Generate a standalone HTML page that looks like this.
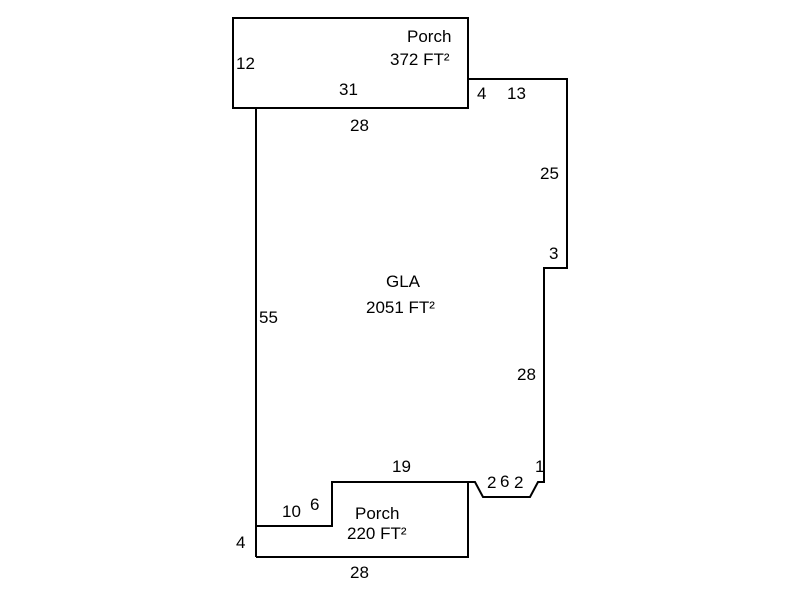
<!DOCTYPE html>
<html><head><style>
body{margin:0;background:#fff;}
svg text{font-family:"Liberation Sans",sans-serif;font-size:17px;fill:#000;}
</style></head><body>
<svg width="800" height="600" viewBox="0 0 800 600" xmlns="http://www.w3.org/2000/svg">
<g fill="none" stroke="#000" stroke-width="2">
<rect x="233" y="18" width="235" height="90"/>
<polyline points="468,79 567,79 567,268 544,268 544,482 538,482 530,497 483,497 475,482 332,482 332,526 256,526"/>
<line x1="256" y1="108" x2="256" y2="557"/>
<polyline points="256,557 468,557 468,482"/>
</g>
<text x="407" y="42">Porch</text>
<text x="390" y="65">372 FT²</text>
<text x="236" y="69">12</text>
<text x="339" y="95">31</text>
<text x="477" y="99">4</text>
<text x="507" y="99">13</text>
<text x="350" y="131">28</text>
<text x="540" y="179">25</text>
<text x="549" y="259">3</text>
<text x="386" y="287">GLA</text>
<text x="366" y="313">2051 FT²</text>
<text x="259" y="323">55</text>
<text x="517" y="380">28</text>
<text x="392" y="472">19</text>
<text x="535" y="472">1</text>
<text x="487" y="488">2</text>
<text x="500" y="487">6</text>
<text x="514" y="488">2</text>
<text x="282" y="517">10</text>
<text x="310" y="510">6</text>
<text x="355" y="519">Porch</text>
<text x="347" y="539">220 FT²</text>
<text x="236" y="548">4</text>
<text x="350" y="578">28</text>
</svg>
</body></html>
